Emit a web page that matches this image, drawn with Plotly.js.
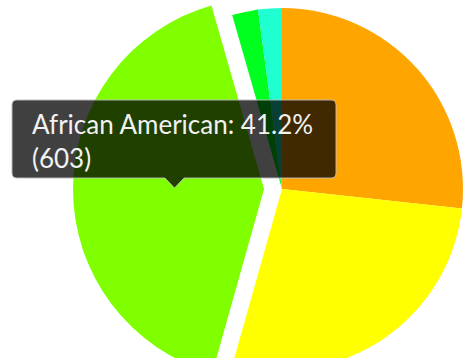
<!DOCTYPE html>
<html>
<head>
<meta charset="utf-8">
<script src="https://cdn.plot.ly/plotly-3.0.1.min.js"></script>
<style>
  html, body { margin: 0; padding: 0; width: 466px; height: 358px; overflow: hidden; background: #ffffff; }
  #chart { position: absolute; left: 0; top: -40px; width: 520px; height: 460px; }
</style>
</head>
<body>
<div id="chart"></div>
<script>
// ---- data ----
var groups = ["White", "Hispanic", "African American", "Asian", "Other"];
var counts = [391, 405, 603, 34, 31];
var sliceColors = ["#FFA500", "#FFFF00", "#7FFF00", "#00FF1E", "#20FFD2"];
var highlighted = "African American";
var tooltipLines = ["African American: 41.2%", "(603)"];

// ---- layout helpers ----
var W = 520, H = 460, OFFSET_TOP = 40;
function px(x) { return x / W; }
function py(y) { return 1 - (y + OFFSET_TOP) / H; }

var hiIdx = groups.indexOf(highlighted);
var baseColors = sliceColors.map(function (c, i) { return i === hiIdx ? "rgba(0,0,0,0)" : c; });
var hiColors = sliceColors.map(function (c, i) { return i === hiIdx ? c : "rgba(0,0,0,0)"; });
var hiPull = groups.map(function (g, i) { return i === hiIdx ? 0.094 : 0; });

var common = {
  type: "pie",
  labels: groups,
  values: counts,
  sort: false,
  direction: "clockwise",
  rotation: 0,
  textinfo: "none",
  hoverinfo: "skip",
  showlegend: false
};

var traceBase = Object.assign({}, common, {
  marker: { colors: baseColors, line: { width: 0 } },
  domain: { x: [101 / W, 463 / W], y: [50 / H, 412 / H] }
});

var traceHi = Object.assign({}, common, {
  marker: { colors: hiColors, line: { width: 0 } },
  pull: hiPull,
  domain: { x: [73 / W, 491 / W], y: [22 / H, 440 / H] }
});

// tooltip box (rounded rect with pointer)
var L = 12, R = 336, T = 100, B = 178, rad = 5;
var tipL = 165, tipR = 184, tipX = 174.5, tipY = 188;
function P(x, y) { return px(x) + "," + py(y); }
var path = "M" + P(L + rad, T) +
  " L" + P(R - rad, T) + " Q" + P(R, T) + " " + P(R, T + rad) +
  " L" + P(R, B - rad) + " Q" + P(R, B) + " " + P(R - rad, B) +
  " L" + P(tipR, B) + " L" + P(tipX, tipY) + " L" + P(tipL, B) +
  " L" + P(L + rad, B) + " Q" + P(L, B) + " " + P(L, B - rad) +
  " L" + P(L, T + rad) + " Q" + P(L, T) + " " + P(L + rad, T) + " Z";

var layout = {
  width: W,
  height: H,
  margin: { l: 0, r: 0, t: 0, b: 0, pad: 0 },
  paper_bgcolor: "#ffffff",
  showlegend: false,
  shapes: [{
    type: "path",
    xref: "paper", yref: "paper",
    path: path,
    fillcolor: "rgba(0,0,0,0.75)",
    line: { color: "rgba(190,190,190,0.9)", width: 1 }
  }],
  annotations: [{
    xref: "paper", yref: "paper",
    x: px(30), y: py(106),
    xanchor: "left", yanchor: "top",
    align: "left",
    showarrow: false,
    text: tooltipLines.join("<br>"),
    font: { family: "Lato, 'Open Sans', sans-serif", size: 26, color: "#F2F2F2" }
  }]
};

Plotly.newPlot("chart", [traceBase, traceHi], layout, { displayModeBar: false, staticPlot: true });
</script>
</body>
</html>
